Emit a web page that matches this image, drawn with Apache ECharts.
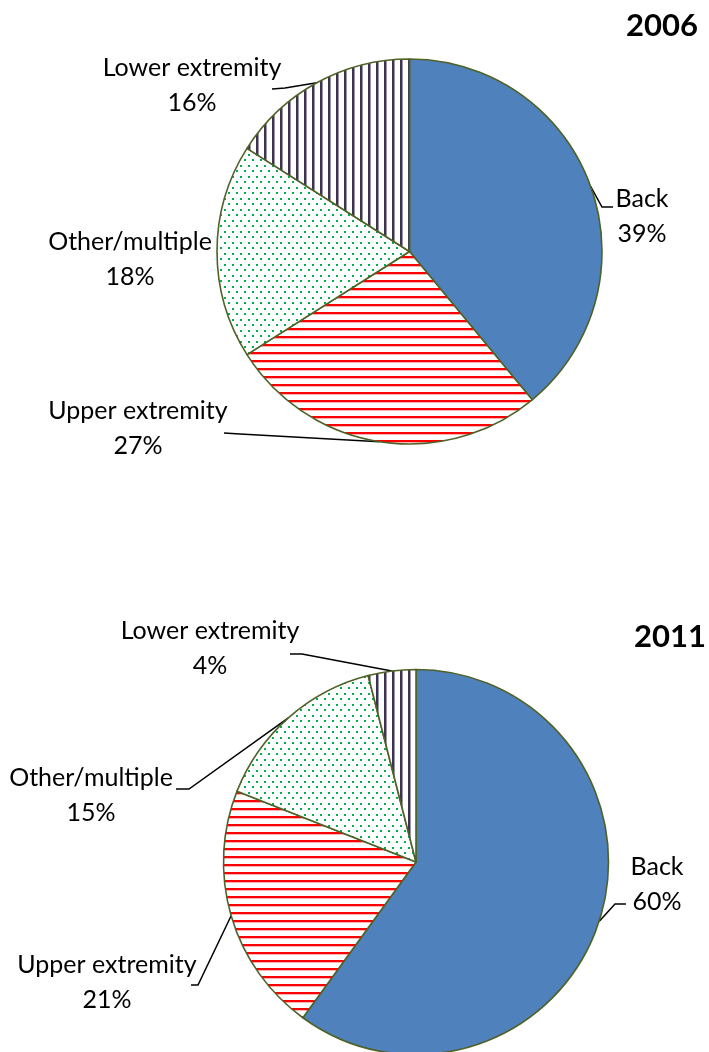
<!DOCTYPE html>
<html>
<head>
<meta charset="utf-8">
<script src="https://cdn.jsdelivr.net/npm/echarts@6/dist/echarts.min.js"></script>
<style>
html,body{margin:0;padding:0;background:#fff;}
#chart{width:709px;height:1052px;}
</style>
</head>
<body>
<div id="chart"></div>
<script>
// ---- data ----
var categories = ['Back', 'Upper extremity', 'Other/multiple', 'Lower extremity'];
var values2006 = [39, 27, 18, 16];
var values2011 = [60, 21, 15, 4];
var years = ['2006', '2011'];

// ---- layout (label placement, not data) ----
var FONT = 'Lato';
var pieCenters = [[409.5, 251.5], [416, 862]];
var pieRadius = 192.5;
var labelSpots = [
  // [centerX, centerY, bendX, bendY, endX, endY, showLine]
  [[642, 216, 602, 207, 613, 207, true],
   [138, 428, 240, 434, 224, 433, true],
   [130, 259, 0, 0, 0, 0, false],
   [192, 85, 285, 88, 272, 89, true]],
  [[657, 884, 615, 904, 626, 904, true],
   [107, 982, 198, 985, 191, 985, true],
   [91, 795, 189, 789, 176, 789, true],
   [210, 648, 302, 654, 290, 654, true]]
];
var titleSpots = [[698, 26], [706, 637]];

// ---- patterns ----
function mkCanvas(w, h) { var c = document.createElement('canvas'); c.width = w; c.height = h; return c; }
function hStripes() {
  var c = mkCanvas(8, 8), g = c.getContext('2d');
  g.fillStyle = '#fff'; g.fillRect(0, 0, 8, 8);
  g.fillStyle = '#FF0000'; g.fillRect(0, 0, 8, 2.3);
  return c;
}
function vStripes() {
  var c = mkCanvas(8, 8), g = c.getContext('2d');
  g.fillStyle = '#fff'; g.fillRect(0, 0, 8, 8);
  g.fillStyle = '#3F3151'; g.fillRect(0, 0, 2.5, 8);
  return c;
}
function dots() {
  var c = mkCanvas(8, 11), g = c.getContext('2d');
  g.fillStyle = '#fff'; g.fillRect(0, 0, 8, 11);
  g.fillStyle = '#00B050';
  g.fillRect(0, 0, 2, 2);
  g.fillRect(4, 5, 2, 2);
  return c;
}
var fills = [
  '#4F81BD',
  { image: hStripes(), repeat: 'repeat' },
  { image: dots(), repeat: 'repeat' },
  { image: vStripes(), repeat: 'repeat' }
];

function buildData(vals) {
  return categories.map(function (name, i) {
    return { name: name, value: vals[i], itemStyle: { color: fills[i] } };
  });
}

function makeLayout(si) {
  return function (params) {
    var s = labelSpots[si][params.dataIndex];
    var res = { x: s[0], y: s[1], align: 'center', verticalAlign: 'middle' };
    if (s[6] && params.labelLinePoints) {
      var p0 = params.labelLinePoints[0];
      res.labelLinePoints = [[p0[0], p0[1]], [s[2], s[3]], [s[4], s[5]]];
    }
    return res;
  };
}

function makeSeries(vals, si) {
  return {
    type: 'pie',
    center: pieCenters[si],
    radius: pieRadius,
    startAngle: 90,
    clockwise: true,
    animation: false,
    avoidLabelOverlap: false,
    silent: true,
    data: buildData(vals).map(function (d, i) {
      d.labelLine = { show: labelSpots[si][i][6] };
      return d;
    }),
    itemStyle: { borderColor: '#4F6228', borderWidth: 1.6 },
    label: {
      show: true,
      position: 'outside',
      formatter: '{b}\n{c}%',
      fontFamily: FONT,
      fontSize: 25,
      lineHeight: 35,
      color: '#000',
      align: 'center'
    },
    labelLine: {
      show: true,
      length: 10,
      length2: 10,
      lineStyle: { color: '#000', width: 1.5 }
    },
    labelLayout: makeLayout(si)
  };
}

var chart = echarts.init(document.getElementById('chart'), null, { renderer: 'canvas' });
chart.setOption({
  backgroundColor: '#fff',
  graphic: years.map(function (y, i) {
    return {
      type: 'text',
      x: titleSpots[i][0],
      y: titleSpots[i][1],
      style: {
        text: y,
        font: 'bold 31px ' + FONT,
        fill: '#000',
        align: 'right',
        verticalAlign: 'middle'
      }
    };
  }),
  series: [makeSeries(values2006, 0), makeSeries(values2011, 1)]
});
</script>
</body>
</html>
